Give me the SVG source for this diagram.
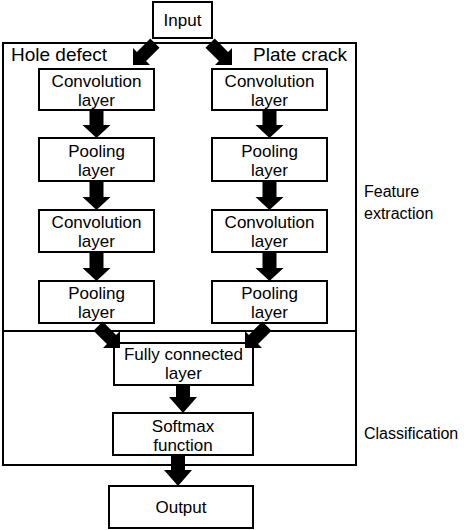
<svg xmlns="http://www.w3.org/2000/svg" width="464" height="530" viewBox="0 0 464 530">
<style>
.region{fill:none;stroke:#000;stroke-width:2}
.box{fill:#fff;stroke:#000;stroke-width:2}
.t{font-family:"Liberation Sans",Arial,sans-serif;font-size:17px;fill:#000;text-anchor:middle}
.lbl{font-family:"Liberation Sans",Arial,sans-serif;font-size:19px;fill:#000}
.side{font-family:"Liberation Sans",Arial,sans-serif;font-size:16px;fill:#000}
.arr{fill:#000;stroke:none}
</style>
<defs>
<polygon id="darrow" class="arr" points="0,0 -12,-12 -6.5,-12 -6.5,-31 6.5,-31 6.5,-12 12,-12"/>
</defs>
<g id="regions">
<rect class="region" x="3" y="43" width="353" height="288"/>
<rect class="region" x="3" y="331" width="353" height="134"/>
<text class="side" x="364" y="197">Feature</text>
<text class="side" x="364" y="219">extraction</text>
<text class="side" x="364" y="439">Classification</text>
<text class="lbl" x="11" y="61">Hole defect</text>
<text class="lbl" x="347" y="61" text-anchor="end">Plate crack</text>
</g>
<g id="input"><rect class="box" x="153" y="2" width="59" height="36"/><text class="t" x="182.5" y="26">Input</text></g>
<g id="conv1-left"><rect class="box" x="39" y="69" width="115" height="41"/><text class="t" x="96.5" y="87">Convolution</text><text class="t" x="96.5" y="106">layer</text></g>
<g id="conv1-right"><rect class="box" x="212" y="69" width="115" height="41"/><text class="t" x="269.5" y="87">Convolution</text><text class="t" x="269.5" y="106">layer</text></g>
<g id="pool1-left"><rect class="box" x="39" y="138" width="115" height="43"/><text class="t" x="96.5" y="157">Pooling</text><text class="t" x="96.5" y="176">layer</text></g>
<g id="pool1-right"><rect class="box" x="212" y="138" width="115" height="43"/><text class="t" x="269.5" y="157">Pooling</text><text class="t" x="269.5" y="176">layer</text></g>
<g id="conv2-left"><rect class="box" x="39" y="210" width="115" height="42"/><text class="t" x="96.5" y="228">Convolution</text><text class="t" x="96.5" y="247">layer</text></g>
<g id="conv2-right"><rect class="box" x="212" y="210" width="115" height="42"/><text class="t" x="269.5" y="228">Convolution</text><text class="t" x="269.5" y="247">layer</text></g>
<g id="pool2-left"><rect class="box" x="39" y="281" width="115" height="42"/><text class="t" x="96.5" y="299">Pooling</text><text class="t" x="96.5" y="318">layer</text></g>
<g id="pool2-right"><rect class="box" x="212" y="281" width="115" height="42"/><text class="t" x="269.5" y="299">Pooling</text><text class="t" x="269.5" y="318">layer</text></g>
<g id="fc"><rect class="box" x="114" y="343" width="139" height="42"/><text class="t" x="183.5" y="360">Fully connected</text><text class="t" x="183.5" y="379">layer</text></g>
<g id="softmax"><rect class="box" x="113" y="413" width="140" height="42"/><text class="t" x="183" y="432">Softmax</text><text class="t" x="183" y="451">function</text></g>
<g id="output"><rect class="box" x="109" y="486" width="144" height="42"/><text class="t" x="181" y="513">Output</text></g>
<g id="connectors">
<use href="#darrow" transform="translate(133,65) rotate(45)"/>
<use href="#darrow" transform="translate(232,65) rotate(-45)"/>
<polygon class="arr" points="89.5,110 103.5,110 103.5,125 110.5,125 96.5,138 82.5,125 89.5,125"/>
<polygon class="arr" points="262.5,110 276.5,110 276.5,125 283.5,125 269.5,138 255.5,125 262.5,125"/>
<polygon class="arr" points="89.5,181 103.5,181 103.5,197 110.5,197 96.5,210 82.5,197 89.5,197"/>
<polygon class="arr" points="262.5,181 276.5,181 276.5,197 283.5,197 269.5,210 255.5,197 262.5,197"/>
<polygon class="arr" points="89.5,252 103.5,252 103.5,268 110.5,268 96.5,281 82.5,268 89.5,268"/>
<polygon class="arr" points="262.5,252 276.5,252 276.5,268 283.5,268 269.5,281 255.5,268 262.5,268"/>
<use href="#darrow" transform="translate(120,348) rotate(-45)"/>
<use href="#darrow" transform="translate(245,348) rotate(45)"/>
<polygon class="arr" points="176,385 190,385 190,397 197,397 183,413 169,397 176,397"/>
<polygon class="arr" points="171,455 185,455 185,470 192,470 178,486 164,470 171,470"/>
</g>
</svg>
